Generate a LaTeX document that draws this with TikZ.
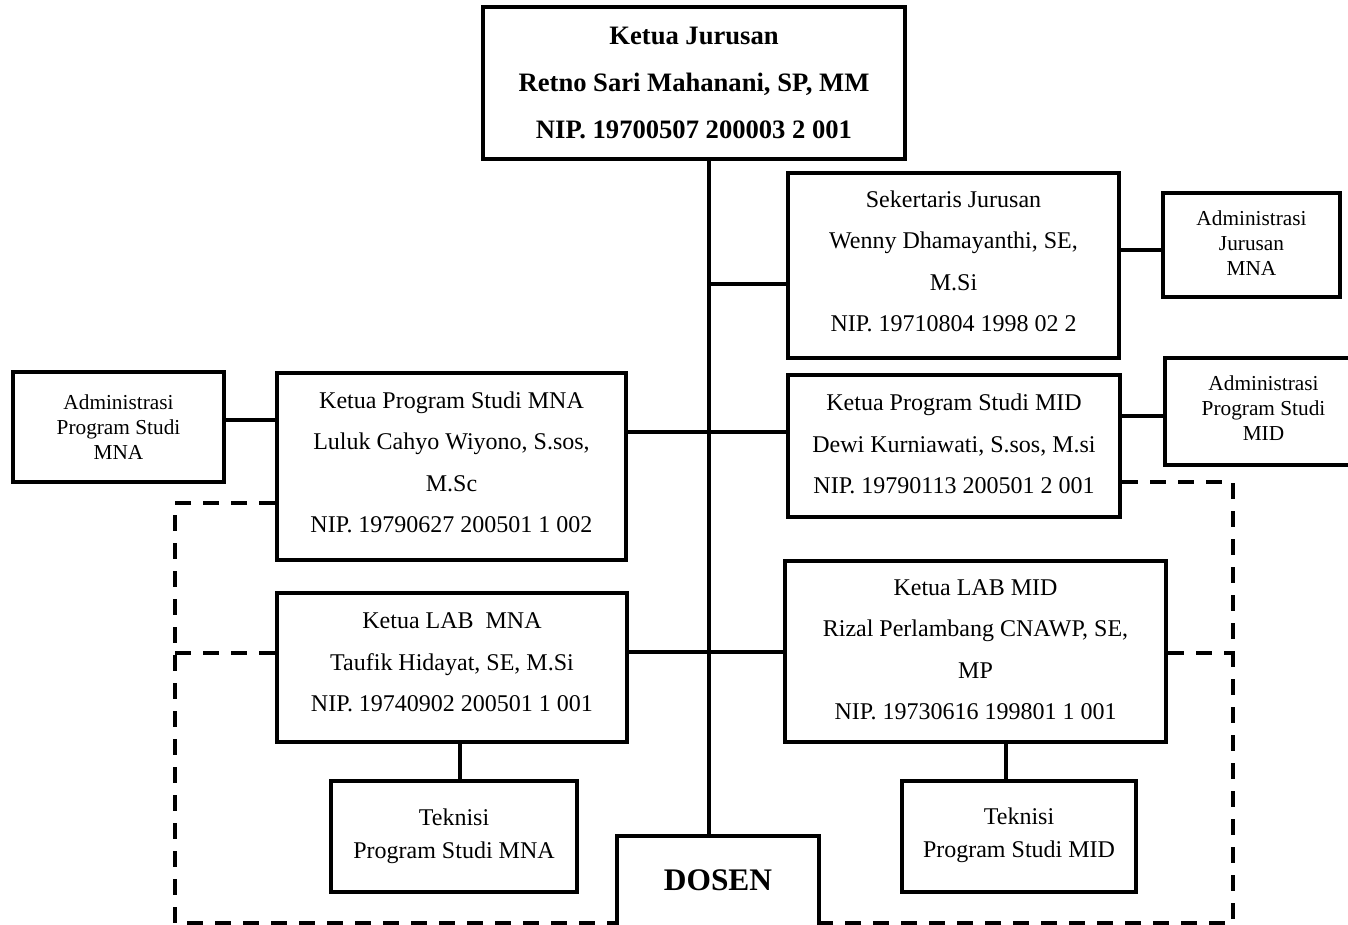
\documentclass[tikz,border=0pt]{standalone}
\usepackage{fontspec}
\setmainfont{Liberation Serif}
\usetikzlibrary{fit}
\begin{document}
\begin{tikzpicture}[x=1pt,y=-1pt,
  frame/.style={draw, line width=4pt, fill=white, inner sep=0pt},
  bodytext/.style={align=center, inner sep=0pt,
    font=\fontsize{24}{41.5}\selectfont},
  headtext/.style={align=center, inner sep=0pt,
    font=\bfseries\fontsize{26.6}{46.7}\selectfont},
  smalltext/.style={align=center, inner sep=0pt,
    font=\fontsize{21.3}{25}\selectfont},
  techtext/.style={align=center, inner sep=0pt,
    font=\fontsize{24}{33}\selectfont},
  dosentext/.style={align=center, inner sep=0pt,
    font=\bfseries\fontsize{31.4}{38}\selectfont},
  link/.style={line width=4pt},
  dashlink/.style={line width=4pt, dash pattern=on 16pt off 12pt}]
\useasboundingbox (0,0) rectangle (1348,925);

% frames
\node[frame, fit={(483,7) (905,159)}] (kj) {};
\node[frame, fit={(788,173) (1119,358)}] (sek) {};
\node[frame, fit={(1163,193) (1340,297)}] (admJ) {};
\node[frame, fit={(13,372) (224,482)}] (admA) {};
\node[frame, fit={(277,373) (626,560)}] (psMNA) {};
\node[frame, fit={(788,375) (1120,517)}] (psMID) {};
\node[frame, fit={(1165,358) (1362,465)}] (admD) {};
\node[frame, fit={(277,593) (627,742)}] (labMNA) {};
\node[frame, fit={(785,561) (1166,742)}] (labMID) {};
\node[frame, fit={(331,781) (577,892)}] (tekMNA) {};
\node[frame, fit={(902,781) (1136,892)}] (tekMID) {};
\node[frame, fit={(617,836) (819,930)}] (dos) {};

% texts
\node[headtext] (kjT) at (kj.center)
  {Ketua Jurusan\\Retno Sari Mahanani, SP, MM\\NIP. 19700507 200003 2 001};
\node[bodytext] (sekT) at ([yshift=4pt]sek.center)
  {Sekertaris Jurusan\\Wenny Dhamayanthi, SE,\\M.Si\\NIP. 19710804 1998 02 2};
\node[smalltext] (admJT) at ([yshift=2pt]admJ.center)
  {Administrasi\\Jurusan\\MNA};
\node[smalltext] (admAT) at (admA.center)
  {Administrasi\\Program Studi\\MNA};
\node[bodytext] (psMNAT) at ([yshift=4pt]psMNA.center)
  {Ketua Program Studi MNA\\Luluk Cahyo Wiyono, S.sos,\\M.Sc\\NIP. 19790627 200501 1 002};
\node[bodytext] (psMIDT) at ([yshift=2pt]psMID.center)
  {Ketua Program Studi MID\\Dewi Kurniawati, S.sos, M.si\\NIP. 19790113 200501 2 001};
\node[smalltext] (admDT) at ([yshift=3pt]admD.center)
  {Administrasi\\Program Studi\\MID};
\node[bodytext] (labMNAT) at ([yshift=5pt]labMNA.center)
  {Ketua LAB\ \ MNA\\Taufik Hidayat, SE, M.Si\\NIP. 19740902 200501 1 001};
\node[bodytext] (labMIDT) at ([yshift=2pt]labMID.center)
  {Ketua LAB MID\\Rizal Perlambang CNAWP, SE,\\MP\\NIP. 19730616 199801 1 001};
\node[techtext] (tekMNAT) at (tekMNA.center)
  {Teknisi\\Program Studi MNA};
\node[techtext] (tekMIDT) at ([yshift=1pt]tekMID.center)
  {Teknisi\\Program Studi MID};
\node[dosentext] (dosT) at (dos.center |- 0,880) {DOSEN};

% trunk and branches
\coordinate (trunk) at (709,0);
\draw[link] (kj.south -| trunk) -- (dos.north -| trunk);
\draw[link] (trunk |- 0,284) -- (sek.west |- 0,284);
\draw[link] (sek.east |- 0,250) -- (admJ.west |- 0,250);
\draw[link] (admA.east |- 0,420) -- (psMNA.west |- 0,420);
\draw[link] (psMNA.east |- 0,432) -- (psMID.west |- 0,432);
\draw[link] (psMID.east |- 0,416) -- (admD.west |- 0,416);
\draw[link] (labMNA.east |- 0,652) -- (labMID.west |- 0,652);
\draw[link] (labMNA.south -| 460,0) -- (tekMNA.north -| 460,0);
\draw[link] (labMID.south -| 1006,0) -- (tekMID.north -| 1006,0);

% dashed frame
\coordinate (dl) at (175,923);
\coordinate (dr) at (1233,923);
\draw[dashlink] (psMNA.west |- 0,503) -| (dl) -- (dos.west |- dl);
\draw[dashlink] (psMID.east |- 0,482) -| (dr) -- (dos.east |- dr);
\draw[dashlink] (dl |- 0,653) -- (labMNA.west |- 0,653);
\draw[dashlink] (labMID.east |- 0,653) -- (dr |- 0,653);
\end{tikzpicture}
\end{document}
